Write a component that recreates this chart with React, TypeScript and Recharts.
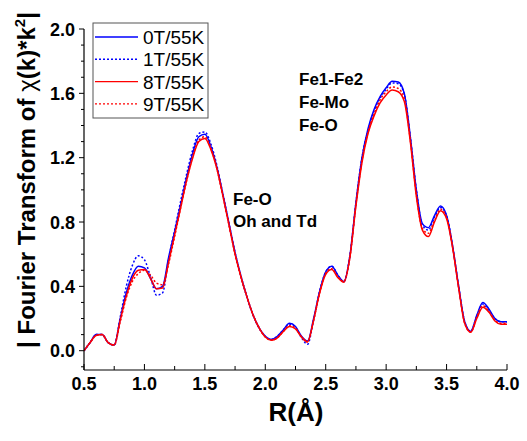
import React from 'react';
import { LineChart, Line, XAxis, YAxis } from 'recharts';

const R = [
  0.5, 0.55, 0.6, 0.65, 0.7, 0.75, 0.8, 0.85, 0.9, 0.95,
  1.0, 1.05, 1.1, 1.15, 1.2, 1.25, 1.3, 1.35, 1.4, 1.45,
  1.5, 1.55, 1.6, 1.65, 1.7, 1.75, 1.8, 1.85, 1.9, 1.95,
  2.0, 2.05, 2.1, 2.15, 2.2, 2.25, 2.3, 2.35, 2.4, 2.45,
  2.5, 2.55, 2.6, 2.65, 2.7, 2.75, 2.8, 2.85, 2.9, 2.95,
  3.0, 3.05, 3.1, 3.15, 3.2, 3.25, 3.3, 3.35, 3.4, 3.45,
  3.5, 3.55, 3.6, 3.65, 3.7, 3.75, 3.8, 3.85, 3.9, 3.95,
  4.0,
];

const t0T = [
  0.0, 0.05, 0.1, 0.1, 0.05, 0.035, 0.2, 0.36, 0.47, 0.525,
  0.515, 0.45, 0.385, 0.4, 0.58, 0.74, 0.91, 1.08, 1.23, 1.33,
  1.345, 1.27, 1.14, 0.97, 0.79, 0.61, 0.46, 0.33, 0.22, 0.14,
  0.09, 0.07, 0.09, 0.13, 0.17, 0.15, 0.09, 0.06, 0.2, 0.37,
  0.49, 0.525, 0.47, 0.43, 0.59, 0.92, 1.2, 1.38, 1.5, 1.58,
  1.635, 1.675, 1.67, 1.6, 1.33, 1.0, 0.79, 0.765, 0.84, 0.9,
  0.84, 0.65, 0.4, 0.18, 0.12, 0.22, 0.3, 0.26, 0.2, 0.18,
  0.18,
];

const t1T = [
  0.0, 0.05, 0.1, 0.1, 0.05, 0.035, 0.21, 0.4, 0.53, 0.59,
  0.565, 0.46, 0.345, 0.36, 0.57, 0.75, 0.93, 1.1, 1.25, 1.35,
  1.36, 1.285, 1.15, 0.97, 0.79, 0.61, 0.46, 0.33, 0.22, 0.14,
  0.09, 0.07, 0.09, 0.13, 0.165, 0.145, 0.08, 0.04, 0.19, 0.37,
  0.49, 0.525, 0.47, 0.43, 0.59, 0.92, 1.2, 1.37, 1.49, 1.57,
  1.625, 1.665, 1.66, 1.595, 1.33, 1.0, 0.78, 0.75, 0.83, 0.89,
  0.84, 0.65, 0.4, 0.18, 0.12, 0.215, 0.29, 0.25, 0.2, 0.18,
  0.18,
];

const t8T = [
  0.0, 0.05, 0.095, 0.1, 0.05, 0.035, 0.19, 0.34, 0.45, 0.5,
  0.505, 0.45, 0.385, 0.39, 0.55, 0.72, 0.89, 1.06, 1.2, 1.3,
  1.32, 1.25, 1.13, 0.96, 0.78, 0.6, 0.455, 0.33, 0.22, 0.14,
  0.085, 0.065, 0.08, 0.12, 0.15, 0.135, 0.085, 0.055, 0.19, 0.36,
  0.475, 0.505, 0.455, 0.425, 0.58, 0.9, 1.17, 1.35, 1.46, 1.54,
  1.59, 1.62, 1.61, 1.55, 1.3, 0.96, 0.75, 0.71, 0.8, 0.87,
  0.82, 0.64, 0.39, 0.17, 0.115, 0.2, 0.27, 0.24, 0.185, 0.165,
  0.165,
];

const t9T = [
  0.0, 0.05, 0.095, 0.1, 0.05, 0.035, 0.18, 0.33, 0.43, 0.48,
  0.5, 0.47, 0.42, 0.41, 0.54, 0.71, 0.89, 1.06, 1.21, 1.31,
  1.33, 1.26, 1.13, 0.96, 0.78, 0.6, 0.455, 0.33, 0.22, 0.14,
  0.085, 0.065, 0.08, 0.12, 0.155, 0.14, 0.085, 0.055, 0.19, 0.36,
  0.48, 0.51, 0.46, 0.43, 0.58, 0.91, 1.18, 1.36, 1.47, 1.56,
  1.61, 1.64, 1.63, 1.57, 1.31, 0.97, 0.76, 0.73, 0.81, 0.88,
  0.83, 0.645, 0.39, 0.17, 0.115, 0.21, 0.28, 0.245, 0.19, 0.17,
  0.17,
];

const seriesNames = ['0T/55K', '1T/55K', '8T/55K', '9T/55K'];
const seriesKeys = ['t0', 't1', 't8', 't9'];
const seriesColors = ['#0000ff', '#0000ff', '#ff0000', '#ff0000'];
const seriesDash = ['', '2 2', '', '2 2'];

const xTicks = [0.5, 0.75, 1.0, 1.25, 1.5, 1.75, 2.0, 2.25, 2.5, 2.75, 3.0, 3.25, 3.5, 3.75, 4.0];
const xTickLabels = ['0.5', '1.0', '1.5', '2.0', '2.5', '3.0', '3.5', '4.0'];
const yTicks = [-0.1, 0, 0.1, 0.2, 0.3, 0.4, 0.5, 0.6, 0.7, 0.8, 0.9, 1.0, 1.1, 1.2, 1.3, 1.4, 1.5, 1.6, 1.7, 1.8, 1.9, 2.0];
const yTickLabels = ['0.0', '0.4', '0.8', '1.2', '1.6', '2.0'];

const data = R.map((r, i) => ({ r, t0: t0T[i], t1: t1T[i], t8: t8T[i], t9: t9T[i] }));

const FONT = 'Arial, "Liberation Sans", sans-serif';

const XTick = (props: any) => {
  const { x, y, payload } = props;
  const v = payload.value as number;
  const idx = Math.round((v - 0.5) / 0.25);
  const major = idx % 2 === 0;
  return (
    <g>
      <line x1={x} x2={x} y1={y} y2={y - (major ? 6 : 4)} stroke="#000" strokeWidth={1} />
      {major && (
        <text x={x} y={y + 20} textAnchor="middle" fontFamily={FONT} fontWeight="bold" fontSize={18} fill="#000">
          {xTickLabels[idx / 2]}
        </text>
      )}
    </g>
  );
};

const YTick = (props: any) => {
  const { x, y, payload } = props;
  const v = payload.value as number;
  const k = Math.round(v * 10);
  const major = k >= 0 && k % 4 === 0;
  return (
    <g>
      <line x1={x} x2={x - (major ? 5 : 3)} y1={y} y2={y} stroke="#000" strokeWidth={1} />
      {major && (
        <text x={x - 9} y={y + 6.5} textAnchor="end" fontFamily={FONT} fontWeight="bold" fontSize={18} fill="#000">
          {yTickLabels[k / 4]}
        </text>
      )}
    </g>
  );
};

export default function App() {
  return (
    <div style={{ position: 'absolute', left: 0, top: 0, width: 527, height: 441, background: '#fff' }}>
      <LineChart
        width={527}
        height={441}
        data={data}
        margin={{ top: 29, right: 20, bottom: 31, left: 24 }}
      >
        <XAxis
          dataKey="r"
          type="number"
          domain={[0.5, 4.0]}
          ticks={xTicks}
          interval={0}
          tickSize={0}
          tickMargin={0}
          tickLine={false}
          height={40}
          axisLine={{ stroke: '#000', strokeWidth: 1.2 }}
          tick={<XTick />}
          allowDataOverflow
        />
        <YAxis
          type="number"
          domain={[-0.12, 2.0]}
          ticks={yTicks}
          interval={0}
          tickSize={0}
          tickMargin={0}
          tickLine={false}
          width={60}
          axisLine={{ stroke: '#000', strokeWidth: 1.2 }}
          tick={<YTick />}
          allowDataOverflow
        />
        {seriesKeys.map((k, i) => (
          <Line
            key={k}
            type="monotone"
            dataKey={k}
            name={seriesNames[i]}
            stroke={seriesColors[i]}
            strokeWidth={1.5}
            strokeDasharray={seriesDash[i] || undefined}
            dot={false}
            activeDot={false}
            isAnimationActive={false}
          />
        ))}
      </LineChart>
      <svg
        width={527}
        height={441}
        style={{ position: 'absolute', left: 0, top: 0, pointerEvents: 'none' }}
      >
        <rect x={93} y={23} width={115} height={95} fill="#fff" stroke="#555" strokeWidth={1} />
        {seriesNames.map((n, i) => (
          <g key={n}>
            <line
              x1={95}
              x2={138}
              y1={37 + i * 22.3}
              y2={37 + i * 22.3}
              stroke={seriesColors[i]}
              strokeWidth={1.4}
              strokeDasharray={seriesDash[i] || undefined}
            />
            <text x={143} y={37 + i * 22.3 + 7} fontFamily={FONT} fontSize={19} fill="#000">
              {n}
            </text>
          </g>
        ))}
        <g fontFamily={FONT} fontWeight="bold" fontSize={17} fill="#000">
          <text x={233} y={205}>Fe-O</text>
          <text x={233} y={227}>Oh and Td</text>
          <text x={299} y={85}>Fe1-Fe2</text>
          <text x={299} y={108}>Fe-Mo</text>
          <text x={299} y={131}>Fe-O</text>
        </g>
        <text x={296} y={421} textAnchor="middle" fontFamily={FONT} fontWeight="bold" fontSize={26} fill="#000">
          R(Å)
        </text>
        <text
          transform="translate(35 180) rotate(-90)"
          x={0}
          y={0}
          textAnchor="middle"
          fontFamily={FONT}
          fontWeight="bold"
          fontSize={24}
          fill="#000"
        >
          {'| Fourier Transform of '}
          <tspan fontWeight="normal">χ</tspan>
          {'(k)*k'}
          <tspan dy={-10} fontSize={15}>2</tspan>
          <tspan dy={10}>|</tspan>
        </text>
      </svg>
    </div>
  );
}
